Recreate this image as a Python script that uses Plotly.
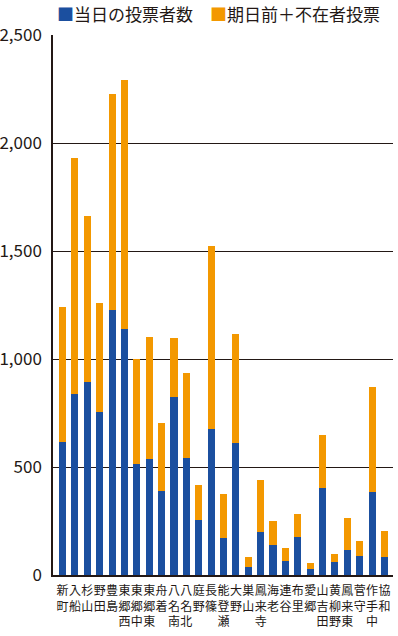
import plotly.graph_objects as go

categories = ["新町", "入船", "杉山", "野田", "豊島", "東郷西", "東郷中", "東郷東", "舟着",
              "八名南", "八名北", "庭野", "長篠", "能登瀬", "大野", "巣山", "鳳来寺", "海老",
              "連谷", "布里", "愛郷", "山吉田", "黄柳野", "鳳来東", "菅守", "作手中", "協和"]
same_day = [616, 838, 894, 756, 1227, 1139, 514, 537, 389, 824, 542, 255, 676, 171, 611,
            37, 199, 139, 65, 176, 28, 402, 60, 116, 88, 384, 83]
totals = [1241, 1931, 1662, 1259, 2227, 2292, 999, 1102, 704, 1097, 935, 417, 1523, 375, 1116,
          83, 440, 250, 125, 282, 56, 648, 97, 264, 157, 870, 204]
early_absentee = [t - s for t, s in zip(totals, same_day)]
y_ticks = [0, 500, 1000, 1500, 2000, 2500]
y_tick_labels = ["0", "500", "1,000", "1,500", "2,000", "2,500"]
series_names = ["当日の投票者数", "期日前＋不在者投票"]

BLUE = "#1B4F9F"
ORANGE = "#F39800"
FONT = "Noto Sans CJK JP"
INK = "#231815"

x_idx = list(range(len(categories)))
vert_labels = ["<br>".join(list(c)) for c in categories]

fig = go.Figure()
fig.add_trace(go.Bar(x=x_idx, y=same_day, name=series_names[0], marker_color=BLUE,
                     marker_line_width=0))
fig.add_trace(go.Bar(x=x_idx, y=early_absentee, name=series_names[1], marker_color=ORANGE,
                     marker_line_width=0))

fig.update_layout(
    barmode="stack",
    bargap=0.43,
    width=398, height=636,
    margin=dict(l=53, r=5, t=35, b=61, pad=0, autoexpand=False),
    plot_bgcolor="white", paper_bgcolor="white",
    showlegend=False,
    font=dict(family=FONT, color=INK),
)
fig.update_xaxes(
    range=[-0.77, 26.69], automargin=False,
    tickmode="array", tickvals=x_idx, ticktext=vert_labels,
    tickangle=0, tickfont=dict(size=12, family=FONT),
    showgrid=False, showline=True, linecolor=INK, linewidth=1.5,
    ticks="", ticklabelstandoff=4,
)
fig.update_yaxes(
    range=[0, 2500], automargin=False,
    tickmode="array", tickvals=y_ticks, ticktext=y_tick_labels,
    tickfont=dict(size=17, family=FONT),
    showgrid=True, gridcolor=INK, gridwidth=1.2,
    showline=True, linecolor=INK, linewidth=1.5,
    zeroline=False, ticks="", ticklabelstandoff=6,
)

fig.add_annotation(
    x=0, y=1, xref="paper", yref="paper", xanchor="left", yanchor="bottom",
    xshift=2, yshift=7, showarrow=False,
    text=f"<span style='color:{BLUE}'>■</span>{series_names[0]}　<span style='color:{ORANGE}'>■</span>{series_names[1]}",
    font=dict(size=17, family=FONT, color=INK),
)

fig.write_html("out.html", config={"displayModeBar": False},
               post_script="document.body.style.margin='0px';")
